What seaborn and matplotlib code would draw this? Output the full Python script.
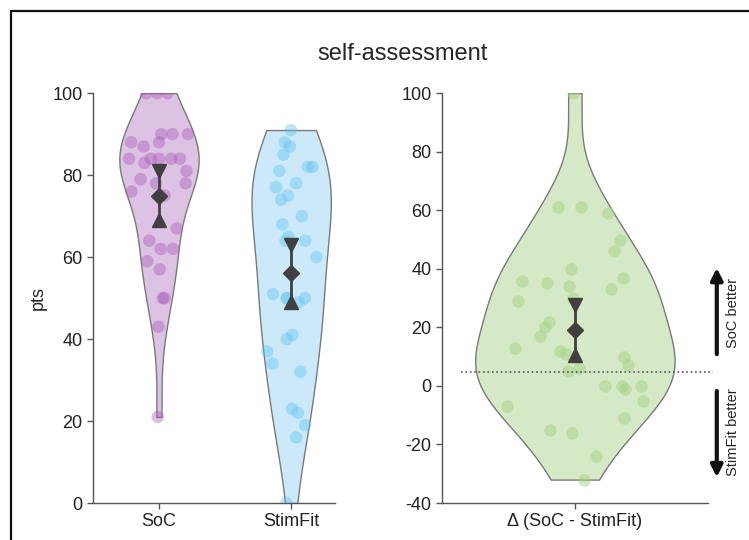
import numpy as np
import pandas as pd
import matplotlib.pyplot as plt
from matplotlib.patches import Rectangle
import seaborn as sns

# values (pts)
soc = [100, 100, 100, 90, 90, 90, 88, 88, 87, 84, 84, 84, 84, 84, 83, 81, 79,
       78, 78, 76, 75, 67, 64, 62, 62, 59, 57, 50, 50, 43, 21]
stimfit = [91, 88, 87, 85, 82, 82, 81, 78, 77, 75, 74, 70, 68, 65, 64, 64, 60,
           51, 50, 50, 50, 49, 41, 40, 37, 34, 32, 23, 22, 19, 16, 0]
delta = [100, 61, 61, 59, 50, 46, 40, 37, 36, 35, 34, 33, 30, 29, 22, 20, 17,
         13, 12, 11, 10, 7, 6, 5, 0, 0, 0, -1, -5, -7, -11, -15, -16, -24, -32]

conds = ['SoC', 'StimFit']
delta_label = '\u0394 (SoC - StimFit)'
means = [75, 56]
ci_lo = [69, 49]
ci_hi = [81, 63]
delta_mean = 19
delta_ci = [10.5, 27.5]
ref_line = 4.8

fill_cols = ['#dcc2e3', '#cbe9f8']
dot_cols = ['#a957b8', '#5cc3f2']
green_fill = '#d6e9c6'
green_dot = '#a6d386'
edge = '#7a7a7a'
dark = '#404040'

sns.set_style('ticks')
plt.rcParams['font.family'] = ['Liberation Sans', 'DejaVu Sans']
plt.rcParams['axes.unicode_minus'] = False
plt.rcParams['axes.edgecolor'] = '#555555'
plt.rcParams['xtick.color'] = '#555555'
plt.rcParams['ytick.color'] = '#555555'
plt.rcParams['xtick.labelcolor'] = '#222222'
plt.rcParams['ytick.labelcolor'] = '#222222'


def squeeze_jitter(ax, colls, vals_list, bw_adjust=1.0):
    # keep the jittered dots inside the violin: scale offset by relative density
    for coll, vals in zip(colls, vals_list):
        v = np.asarray(vals, float)
        bw = v.std(ddof=1) * len(v) ** (-0.2) * bw_adjust
        grid = np.linspace(v.min(), v.max(), 200)
        dens = lambda y: np.exp(-0.5 * ((np.atleast_1d(y)[:, None] - v[None, :]) / bw) ** 2).sum(1)
        dmax = dens(grid).max()
        off = coll.get_offsets().copy()
        c = np.round(off[:, 0])
        off[:, 0] = c + (off[:, 0] - c) * dens(off[:, 1]) / dmax
        coll.set_offsets(off)


df = pd.DataFrame({'cond': ['SoC'] * len(soc) + ['StimFit'] * len(stimfit),
                   'pts': soc + stimfit})
dd = pd.DataFrame({'cond': [delta_label] * len(delta), 'pts': delta})

fig = plt.figure(figsize=(7.49, 5.40), dpi=100)
ax1 = fig.add_axes([0.124, 0.0685, 0.323, 0.759])
ax2 = fig.add_axes([0.590, 0.0685, 0.355, 0.759])

np.random.seed(7)
# left panel
sns.violinplot(data=df, x='cond', y='pts', hue='cond', palette=fill_cols,
               inner=None, cut=0, density_norm='width', width=0.6,
               linewidth=1, linecolor=edge, saturation=1, legend=False, ax=ax1)
n0 = len(ax1.collections)
sns.stripplot(data=df, x='cond', y='pts', hue='cond', palette=dot_cols,
              jitter=0.26, size=9, alpha=0.4, linewidth=0, legend=False, ax=ax1)
squeeze_jitter(ax1, ax1.collections[n0:], [soc, stimfit])
ax1.errorbar([0, 1], means, yerr=[np.subtract(means, ci_lo), np.subtract(ci_hi, means)],
             fmt='none', ecolor=dark, elinewidth=2, zorder=5)
ax1.plot([0, 1], means, 'D', color=dark, ms=8, zorder=6)
ax1.plot([0, 1], ci_hi, 'v', color=dark, ms=10, zorder=6)
ax1.plot([0, 1], ci_lo, '^', color=dark, ms=10, zorder=6)
ax1.set_xlim(-0.5, 1.33)
ax1.set_ylim(0, 100)
ax1.set_yticks(range(0, 101, 20))
ax1.set_xlabel('')
ax1.set_ylabel('pts', fontsize=13, labelpad=4)

# right panel
sns.violinplot(data=dd, x='cond', y='pts', color=green_fill, inner=None, cut=0,
               width=0.75, linewidth=1, linecolor=edge, saturation=1, ax=ax2)
n0 = len(ax2.collections)
sns.stripplot(data=dd, x='cond', y='pts', color=green_dot, jitter=0.34, size=9,
              alpha=0.5, linewidth=0, ax=ax2)
squeeze_jitter(ax2, ax2.collections[n0:], [delta])
ax2.errorbar([0], [delta_mean], yerr=[[delta_mean - delta_ci[0]], [delta_ci[1] - delta_mean]],
             fmt='none', ecolor=dark, elinewidth=2, zorder=5)
ax2.plot([0], [delta_mean], 'D', color=dark, ms=8, zorder=6)
ax2.plot([0], [delta_ci[1]], 'v', color=dark, ms=10, zorder=6)
ax2.plot([0], [delta_ci[0]], '^', color=dark, ms=10, zorder=6)
ax2.axhline(ref_line, xmin=0.07, xmax=1.02, color='#555555', ls=':', lw=1.2,
            clip_on=False, zorder=4)
ax2.set_xlim(-0.5, 0.5)
ax2.set_ylim(-40, 100)
ax2.set_yticks(range(-40, 101, 20))
ax2.set_xlabel('')
ax2.set_ylabel('')

for ax in (ax1, ax2):
    sns.despine(ax=ax)
    ax.tick_params(labelsize=13, length=4, width=1)
    for s in ax.spines.values():
        s.set_linewidth(1)

fig.text(0.538, 0.9, 'self-assessment', ha='center', va='center', fontsize=17)

# frame and direction arrows
fig.patches.append(Rectangle((0.0147, -0.2), 1.3, 1.18, transform=fig.transFigure,
                             fill=False, ec='#111111', lw=1.6))
ax2.annotate('', xy=(0.957, 0.509), xytext=(0.957, 0.339), xycoords='figure fraction',
             arrowprops=dict(arrowstyle='-|>,head_width=0.35,head_length=0.7',
                             color='#111111', lw=3))
ax2.annotate('', xy=(0.957, 0.111), xytext=(0.957, 0.281), xycoords='figure fraction',
             arrowprops=dict(arrowstyle='-|>,head_width=0.35,head_length=0.7',
                             color='#111111', lw=3))
fig.text(0.979, 0.42, 'SoC better', rotation=90, ha='center', va='center', fontsize=10.5)
fig.text(0.979, 0.2, 'StimFit better', rotation=90, ha='center', va='center', fontsize=10.5)

fig.savefig('out.png', dpi=100)
